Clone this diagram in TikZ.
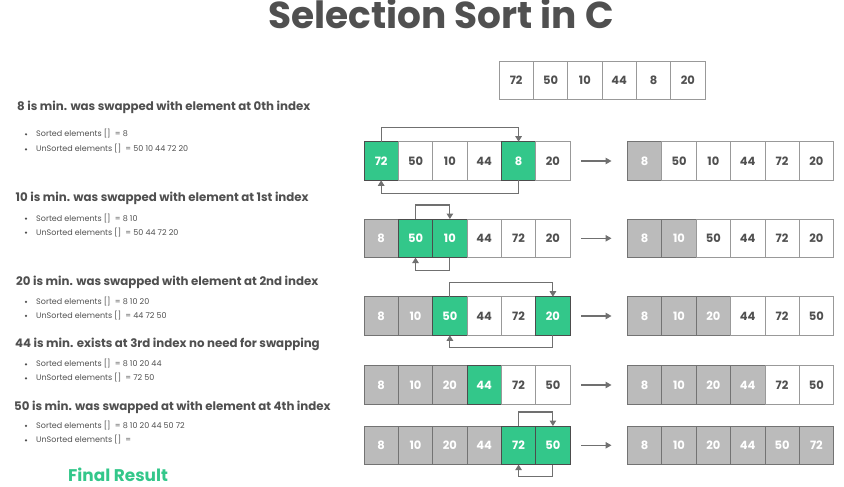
\documentclass[tikz,border=0pt]{standalone}
\usepackage{fontspec}
\setmainfont{Poppins}
\usetikzlibrary{arrows.meta}
\definecolor{sgreen}{HTML}{33C78A}
\definecolor{sgray}{HTML}{BBBBBB}
\definecolor{txt}{HTML}{505050}
\definecolor{lnk}{HTML}{707070}
\tikzset{
  basecell/.style={minimum width=34.35pt,minimum height=38.6pt,inner sep=0pt,outer sep=0pt,anchor=north west,font=\fontsize{11.5}{12}\selectfont\bfseries,line width=0.8pt},
  wcell/.style={basecell,draw=black!40,fill=white,text=txt},
  gcell/.style={basecell,draw=black!70,fill=sgreen,text=white},
  scell/.style={basecell,draw=black!55,fill=sgray,text=white},
  swap/.style={draw=lnk,line width=1.1pt,-{Triangle[width=6.5pt,length=5.5pt]}},
  flow/.style={draw=lnk,line width=1.1pt,-{Triangle[width=6.5pt,length=6pt]}},
  head/.style={anchor=base west,inner sep=0pt,text=txt,font=\fontsize{11.8}{13}\selectfont\bfseries},
  bul/.style={anchor=base west,inner sep=0pt,text=txt,font=\fontsize{8}{9}\selectfont},
  dot/.style={circle,fill=txt,inner sep=0pt,minimum size=2.4pt}
}
\newcommand{\cellrow}[4]{%
  \foreach \v/\s [count=\i from 0] in {#4} {
    \node[\s] (#1-\i) at ({#2+\i*34.35},#3) {\v};
  }}
\newcommand{\bitem}[4]{%
  \node[dot] (#1d) at (26,#3-2.4) {};
  \node[bul] (#1) at (36,#3) {#4};}
\begin{document}
\begin{tikzpicture}[x=1pt,y=-1pt]
\useasboundingbox (0,0) rectangle (844,487);
\node[text=txt,font=\fontsize{37.5}{40}\selectfont\bfseries,anchor=base] (title) at (441,28.5) {Selection Sort in C};

% arrays
\cellrow{T}{499}{61}{72/wcell,50/wcell,10/wcell,44/wcell,8/wcell,20/wcell}
\cellrow{L1}{364}{141.7}{72/gcell,50/wcell,10/wcell,44/wcell,8/gcell,20/wcell}
\cellrow{R1}{627.5}{141.7}{8/scell,50/wcell,10/wcell,44/wcell,72/wcell,20/wcell}
\cellrow{L2}{364}{219}{8/scell,50/gcell,10/gcell,44/wcell,72/wcell,20/wcell}
\cellrow{R2}{627.5}{219}{8/scell,10/scell,50/wcell,44/wcell,72/wcell,20/wcell}
\cellrow{L3}{364}{296.7}{8/scell,10/scell,50/gcell,44/wcell,72/wcell,20/gcell}
\cellrow{R3}{627.5}{296.7}{8/scell,10/scell,20/scell,44/wcell,72/wcell,50/wcell}
\cellrow{L4}{364}{365.7}{8/scell,10/scell,20/scell,44/gcell,72/wcell,50/wcell}
\cellrow{R4}{627.5}{365.7}{8/scell,10/scell,20/scell,44/scell,72/wcell,50/wcell}
\cellrow{L5}{364}{426}{8/scell,10/scell,20/scell,44/scell,72/gcell,50/gcell}
\cellrow{R5}{627.5}{426}{8/scell,10/scell,20/scell,44/scell,50/scell,72/scell}

% flow arrows
\foreach \r in {1,...,5} {
  \draw[flow] ([xshift=11pt]L\r-5.east) -- ([xshift=-16pt]R\r-0.west);
}

% swap arrows
\draw[swap] (L1-0.north) -- ++(0,-14) -| (L1-4.north);
\draw[swap] (L1-4.south) -- ++(0,13) -| (L1-0.south);
\draw[swap] (L2-1.north) -- ++(0,-14) -| (L2-2.north);
\draw[swap] (L2-2.south) -- ++(0,13) -| (L2-1.south);
\draw[swap] (L3-2.north) -- ++(0,-14) -| (L3-5.north);
\draw[swap] (L3-5.south) -- ++(0,12) -| (L3-2.south);
\draw[swap] (L5-4.north) -- ++(0,-14) -| (L5-5.north);
\draw[swap] (L5-5.south) -- ++(0,12) -| (L5-4.south);

% left texts
\node[head] (h1) at (17,110.7) {8 is min. was swapped with element at 0th index};
\bitem{b1a}{}{136.7}{Sorted elements []\ \ = 8}
\bitem{b1b}{}{151.7}{UnSorted elements []\ \ = 50 10 44 72 20}

\node[head] (h2) at (15.5,201.7) {10 is min. was swapped with element at 1st index};
\bitem{b2a}{}{221}{Sorted elements []\ \ = 8 10}
\bitem{b2b}{}{235}{UnSorted elements []\ \ = 50 44 72 20}

\node[head] (h3) at (16,285.7) {20 is min. was swapped with element at 2nd index};
\bitem{b3a}{}{304.3}{Sorted elements [] \ = 8 10 20}
\bitem{b3b}{}{318.3}{UnSorted elements [] \ = 44 72 50}

\node[head] (h4) at (15,347.7) {44 is min. exists at 3rd index no need for swapping};
\bitem{b4a}{}{366.7}{Sorted elements [] \ = 8 10 20 44}
\bitem{b4b}{}{380.7}{UnSorted elements [] \ = 72 50}

\node[head] (h5) at (14,410) {50 is min. was swapped at with element at 4th index};
\bitem{b5a}{}{428.3}{Sorted elements [] \ = 8 10 20 44 50 72}
\bitem{b5b}{}{442.7}{UnSorted elements [] \ =}

\node[anchor=base west,inner sep=0pt,text=sgreen,font=\fontsize{16.9}{19}\selectfont\bfseries] (fr) at (68,481) {Final Result};
\end{tikzpicture}
\end{document}
